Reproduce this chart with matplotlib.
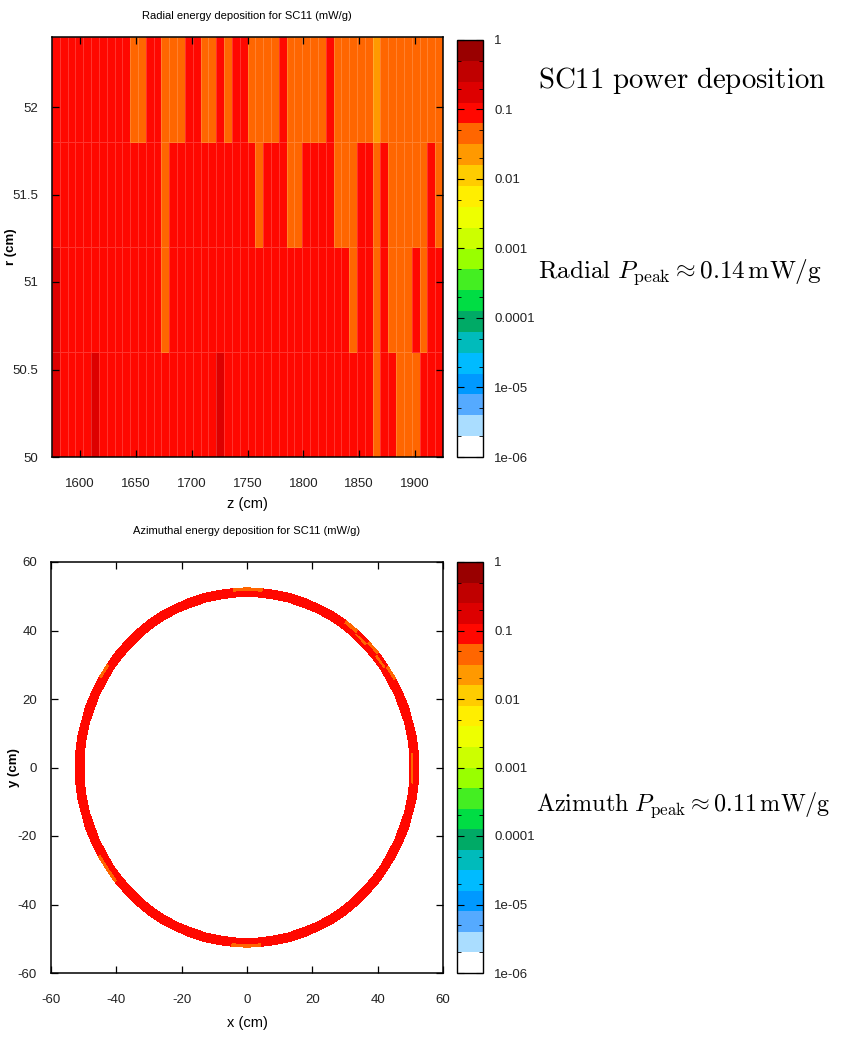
import numpy as np
import matplotlib.pyplot as plt
from matplotlib.colors import ListedColormap, LogNorm
from matplotlib.ticker import FormatStrFormatter, FixedLocator

plt.rcParams['font.family'] = ['Liberation Sans Narrow', 'Liberation Sans', 'DejaVu Sans']
plt.rcParams['mathtext.fontset'] = 'cm'
plt.rcParams['axes.unicode_minus'] = False

# energy deposition levels (mW/g)
R, O, L, D = 0.09, 0.045, 0.025, 0.14

# radial map: 50 z-bins of 7 cm, 4 r-bins of 0.6 cm
z_edges = np.arange(1575, 1926, 7)
r_edges = [50.0, 50.6, 51.2, 51.8, 52.4]
row_50_0 = [D] + [R]*4 + [D] + [R]*15 + [D] + [R]*19 + [O] + [R]*2 + [O]*3 + [R]*3
row_50_6 = [D] + [R]*13 + [O] + [R]*23 + [O] + [R]*2 + [O] + [R] + [O]*3 + [R] + [O] + [R]*2
row_51_2 = [R]*14 + [O] + [R]*11 + [O] + [R]*3 + [O]*2 + [R]*4 + [O]*3 + [R]*2 + [O] + [R] + [O]*5 + [R] + [O]
row_51_8 = ([R]*10 + [O]*2 + [R]*2 + [O]*3 + [R]*2 + [O]*2 + [R] + [O] + [R]*2 + [O]*4 + [R]
            + [O]*5 + [R] + [O]*5 + [L] + [O]*8)
radial = np.array([row_50_0, row_50_6, row_51_2, row_51_8])

# azimuthal map: 72 phi-bins of 5 deg, same 4 r-bins
phi_edges = np.linspace(0, 360, 73)
ring_50_0 = [R]*72
ring_50_6 = [O] + [R]*70 + [O]
ring_51_2 = [R]*7 + [O] + [R] + [O] + [R]*62
ring_51_8 = [R]*6 + [O, R, O, R, O] + [R]*6 + [O]*2 + [R]*10 + [O] + [R]*12 + [O]*2 + [R]*9 + [O]*2 + [R]*17
azimuthal = np.array([ring_50_0, ring_50_6, ring_51_2, ring_51_8])

palette = ['#ffffff', '#aaddff', '#55aaff', '#0099ff', '#00bbff', '#00bbbb', '#00aa66',
           '#00dd44', '#44ee22', '#99ff00', '#ccff00', '#eeff00', '#ffee00', '#ffcc00',
           '#ff9900', '#ff6600', '#ff0800', '#dd0000', '#c00000', '#990000']
cbar_ticks = [1e-6, 1e-5, 1e-4, 1e-3, 1e-2, 1e-1, 1]
cbar_labels = ['1e-06', '1e-05', '0.0001', '0.001', '0.01', '0.1', '1']

cmap = ListedColormap(palette)
norm = LogNorm(1e-6, 1)

W, H = 841, 1037
fig = plt.figure(figsize=(W / 100, H / 100), dpi=100)


def box(x0, y0, x1, y1):
    return [x0 / W, 1 - y1 / H, (x1 - x0) / W, (y1 - y0) / H]


def style(ax):
    ax.tick_params(which='both', direction='in', top=True, right=True, length=5,
                   width=0.9, labelsize=9.5, labelcolor='#222222')
    ax.tick_params(axis='x', pad=15)
    ax.tick_params(axis='y', pad=10)
    for s in ax.spines.values():
        s.set_linewidth(1.1)


def colorbar(mesh, cax):
    cb = fig.colorbar(mesh, cax=cax)
    cb.set_ticks(cbar_ticks)
    cb.set_ticklabels(cbar_labels)
    cb.ax.yaxis.set_minor_locator(FixedLocator(
        [m * t for t in cbar_ticks[:-1] for m in (2, 5)]))
    cb.ax.tick_params(which='both', direction='in', left=True, right=True,
                      labelsize=9.5, labelcolor='#222222', pad=8)
    cb.ax.tick_params(which='major', length=5)
    cb.ax.tick_params(which='minor', length=3)
    cb.outline.set_linewidth(1.0)


# top: radial
ax1 = fig.add_axes(box(52, 37, 443, 457))
m1 = ax1.pcolormesh(z_edges, r_edges, radial, cmap=cmap, norm=norm,
                    edgecolors=(1, 1, 1, 0.18), linewidth=0.4)
ax1.set_xlim(1575, 1925)
ax1.set_ylim(50, 52.4)
ax1.set_xticks([1600, 1650, 1700, 1750, 1800, 1850, 1900])
ax1.set_yticks([50, 50.5, 51, 51.5, 52])
ax1.yaxis.set_major_formatter(FormatStrFormatter('%g'))
style(ax1)
ax1.set_xlabel('z (cm)', fontsize=10.5)
ax1.xaxis.set_label_coords(0.5, -(497 - 457) / 420)
ax1.set_ylabel('r (cm)', fontsize=9.5, fontweight='bold')
ax1.yaxis.set_label_coords(-(52 - 17) / 391, 0.5)
fig.text(247 / W, 1 - 16 / H, 'Radial energy deposition for SC11 (mW/g)',
         ha='center', va='center', fontsize=8)
colorbar(m1, fig.add_axes(box(457, 40, 483, 457)))

# bottom: azimuthal
phi = np.deg2rad(phi_edges)
rr, pp = np.meshgrid(r_edges, phi, indexing='ij')
ax2 = fig.add_axes(box(51, 562, 443, 973))
m2 = ax2.pcolormesh(rr * np.cos(pp), rr * np.sin(pp), azimuthal, cmap=cmap, norm=norm,
                    edgecolors='face', linewidth=0.3)
ax2.set_xlim(-60, 60)
ax2.set_ylim(-60, 60)
ax2.set_xticks(range(-60, 61, 20))
ax2.set_yticks(range(-60, 61, 20))
style(ax2)
ax2.set_xlabel('x (cm)', fontsize=10.5)
ax2.xaxis.set_label_coords(0.5, -(1016 - 973) / 411)
ax2.set_ylabel('y (cm)', fontsize=9.5, fontweight='bold')
ax2.yaxis.set_label_coords(-(51 - 20) / 392, 0.5)
fig.text(247 / W, 1 - 531 / H, 'Azimuthal energy deposition for SC11 (mW/g)',
         ha='center', va='center', fontsize=8)
colorbar(m2, fig.add_axes(box(457, 562, 483, 973)))

# annotations
fig.text(538 / W, 1 - 80 / H, r'$\mathrm{SC11\ power\ deposition}$',
         ha='left', va='center', fontsize=20.8)
fig.text(538 / W, 1 - 272 / H, r'$\mathrm{Radial}\ P_{\mathrm{peak}} \approx 0.14\,\mathrm{mW/g}$',
         ha='left', va='center', fontsize=18.2)
fig.text(536 / W, 1 - 805 / H, r'$\mathrm{Azimuth}\ P_{\mathrm{peak}} \approx 0.11\,\mathrm{mW/g}$',
         ha='left', va='center', fontsize=17.4)

fig.savefig('out.png', dpi=100)
